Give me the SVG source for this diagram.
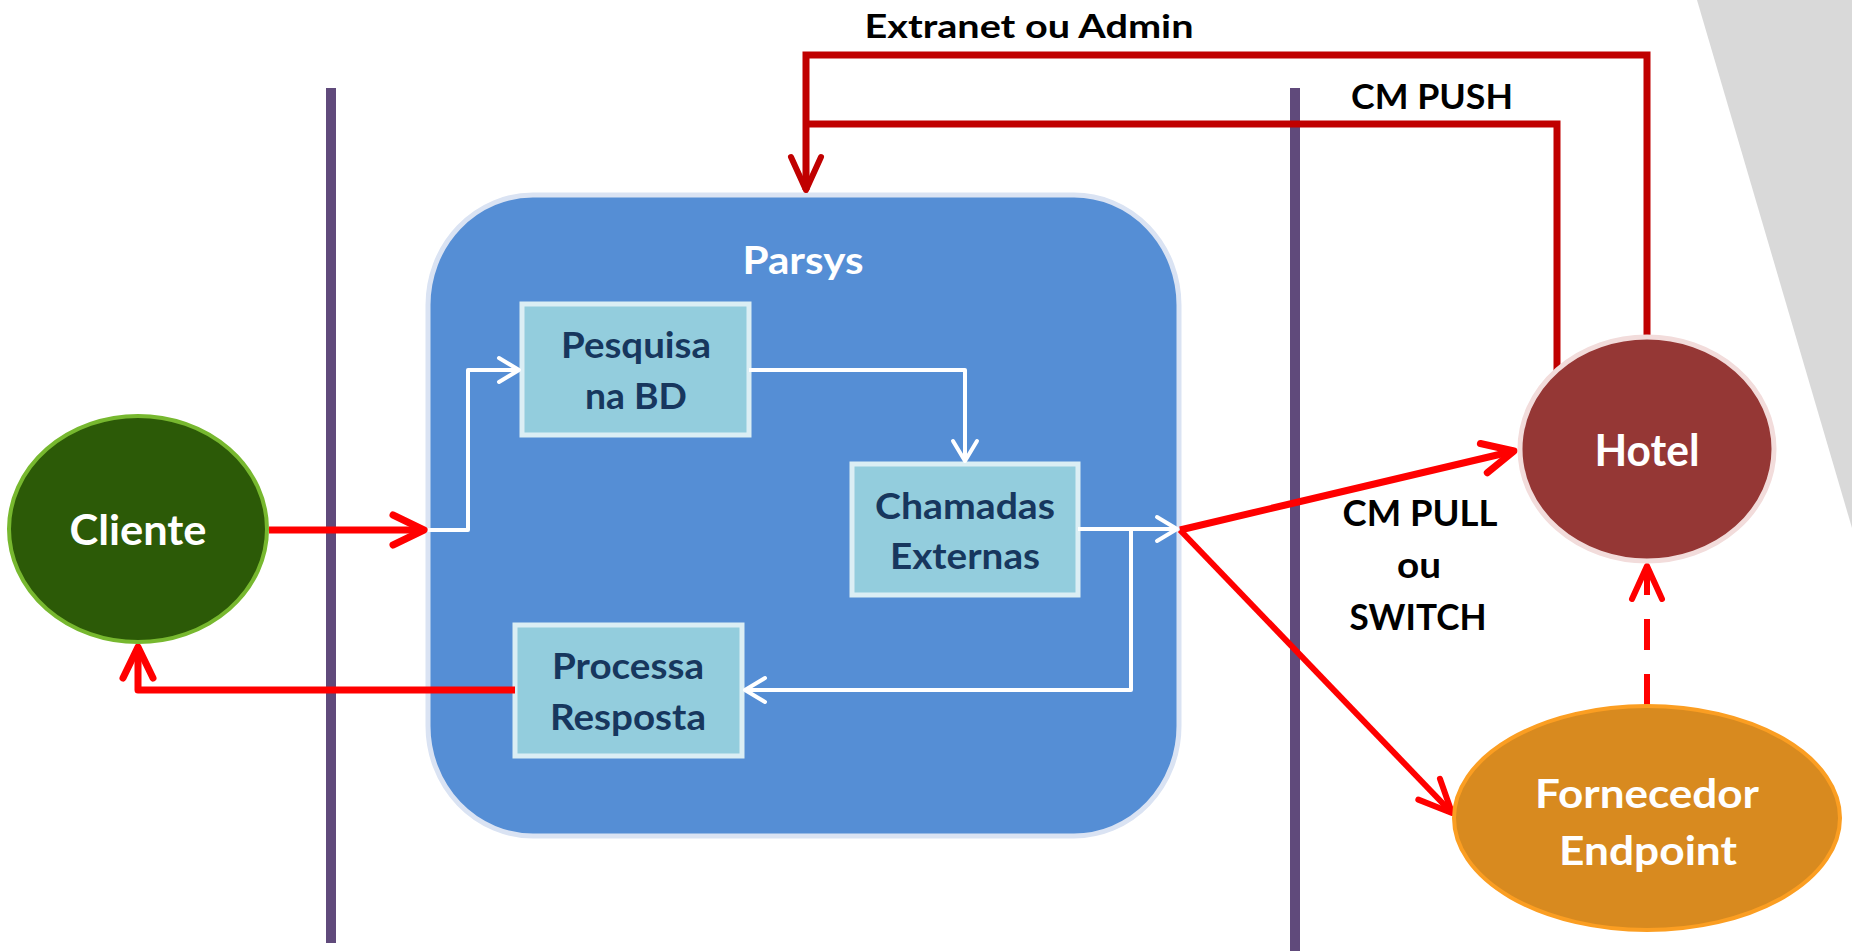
<svg xmlns="http://www.w3.org/2000/svg" width="1852" height="951" viewBox="0 0 1852 951">
  <style>
    .lbl { font-family: Lato, "Open Sans", "Liberation Sans", sans-serif; font-weight: 700; text-anchor: middle; }
    .blk { fill: #000000; }
    .wht { fill: #ffffff; }
    .nav { fill: #17375e; }
    .lane { stroke: #604a7b; stroke-width: 10; fill: none; }
    .box { fill: #93cddd; stroke: #dbeef4; stroke-width: 5; }
    .red { fill: none; stroke: #ff0000; stroke-linejoin: round; }
    .dred { fill: none; stroke: #c00000; stroke-width: 7; stroke-linejoin: miter; }
    .wl { fill: none; stroke: #ffffff; stroke-width: 4; stroke-linejoin: round; }
  </style>
  <defs>
    <marker id="mRed" markerUnits="userSpaceOnUse" markerWidth="50" markerHeight="50" viewBox="-45 -25 50 50" refX="0" refY="0" orient="auto" overflow="visible">
      <path d="M-31,-15 L0,0 L-31,15" fill="none" stroke="#ff0000" stroke-width="7" stroke-linecap="round" stroke-linejoin="round"/>
    </marker>
    <marker id="mRedThin" markerUnits="userSpaceOnUse" markerWidth="50" markerHeight="50" viewBox="-45 -25 50 50" refX="0" refY="0" orient="auto" overflow="visible">
      <path d="M-33,-15 L0,0 L-33,15" fill="none" stroke="#ff0000" stroke-width="6" stroke-linecap="round" stroke-linejoin="round"/>
    </marker>
    <marker id="mDred" markerUnits="userSpaceOnUse" markerWidth="50" markerHeight="50" viewBox="-45 -25 50 50" refX="0" refY="0" orient="auto" overflow="visible">
      <path d="M-33,-15 L0,0 L-33,15" fill="none" stroke="#c00000" stroke-width="6" stroke-linecap="round" stroke-linejoin="round"/>
    </marker>
    <marker id="mWht" markerUnits="userSpaceOnUse" markerWidth="40" markerHeight="40" viewBox="-30 -20 40 40" refX="0" refY="0" orient="auto" overflow="visible">
      <path d="M-20,-12 L0,0 L-20,12" fill="none" stroke="#ffffff" stroke-width="4" stroke-linecap="round" stroke-linejoin="round"/>
    </marker>
  </defs>

  <polygon id="bg-shape" points="1697,0 1852,0 1852,528" fill="#d9d9d9"/>

  <g id="lanes">
    <line class="lane" x1="331" y1="88" x2="331" y2="943"/>
    <line class="lane" x1="1295" y1="88" x2="1295" y2="951"/>
  </g>

  <g id="parsys">
    <rect x="428" y="195" width="751" height="641" rx="105" ry="110" fill="#558ed5" stroke="#dae3f3" stroke-width="5"/>
    <text class="lbl wht" x="803" y="274" font-size="39" textLength="121" lengthAdjust="spacingAndGlyphs">Parsys</text>
  </g>

  <g id="pesquisa">
    <rect class="box" x="522" y="304" width="227" height="131"/>
    <text class="lbl nav" x="636" y="358" font-size="36" textLength="150" lengthAdjust="spacingAndGlyphs">Pesquisa</text>
    <text class="lbl nav" x="636" y="409" font-size="36" textLength="102" lengthAdjust="spacingAndGlyphs">na BD</text>
  </g>

  <g id="chamadas">
    <rect class="box" x="852" y="464" width="226" height="131"/>
    <text class="lbl nav" x="965" y="519" font-size="36" textLength="180" lengthAdjust="spacingAndGlyphs">Chamadas</text>
    <text class="lbl nav" x="965" y="569" font-size="36" textLength="150" lengthAdjust="spacingAndGlyphs">Externas</text>
  </g>

  <g id="processa">
    <rect class="box" x="515" y="625" width="227" height="131"/>
    <text class="lbl nav" x="628" y="679" font-size="36" textLength="152" lengthAdjust="spacingAndGlyphs">Processa</text>
    <text class="lbl nav" x="628" y="730" font-size="36" textLength="156" lengthAdjust="spacingAndGlyphs">Resposta</text>
  </g>

  <g id="connectors">
    <path class="wl" d="M428,530 H468 V370 H519" marker-end="url(#mWht)"/>
    <path class="wl" d="M749,370 H965 V461" marker-end="url(#mWht)"/>
    <path class="wl" d="M1078,529 H1177" marker-end="url(#mWht)"/>
    <path class="wl" d="M1131,529 V690 H745" marker-end="url(#mWht)"/>

    <path class="red" stroke-width="7" d="M269,530 H424" marker-end="url(#mRed)"/>
    <path class="red" stroke-width="7" d="M515,690 H138 V647" marker-end="url(#mRed)"/>
    <path class="red" stroke-width="7" d="M1180,530 L1514,451" marker-end="url(#mRed)"/>
    <path class="red" stroke-width="6" d="M1180,530 L1452,813" marker-end="url(#mRedThin)"/>
    <path class="red" stroke-width="6" stroke-dasharray="31 24" d="M1647,705 V566" marker-end="url(#mRedThin)"/>

    <path class="dred" d="M1647,338 V55 H806 V190" marker-end="url(#mDred)"/>
    <path class="dred" d="M1557,372 V124 H806"/>

    <text class="lbl blk" x="1029" y="38" font-size="33" textLength="329" lengthAdjust="spacingAndGlyphs">Extranet ou Admin</text>
    <text class="lbl blk" x="1432" y="109" font-size="34" textLength="162" lengthAdjust="spacingAndGlyphs">CM PUSH</text>
    <text class="lbl blk" x="1420" y="526" font-size="36" textLength="155" lengthAdjust="spacingAndGlyphs">CM PULL</text>
    <text class="lbl blk" x="1419" y="578" font-size="36" textLength="44" lengthAdjust="spacingAndGlyphs">ou</text>
    <text class="lbl blk" x="1418" y="630" font-size="36" textLength="137" lengthAdjust="spacingAndGlyphs">SWITCH</text>
  </g>

  <g id="cliente">
    <ellipse cx="138" cy="529" rx="129" ry="113" fill="#2c5a07" stroke="#77b82f" stroke-width="4"/>
    <text class="lbl wht" x="138" y="545" font-size="42" textLength="137" lengthAdjust="spacingAndGlyphs">Cliente</text>
  </g>

  <g id="hotel">
    <ellipse cx="1647" cy="449" rx="127" ry="112" fill="#953735" stroke="#f2dcdb" stroke-width="5"/>
    <text class="lbl wht" x="1647" y="466" font-size="43" textLength="105" lengthAdjust="spacingAndGlyphs">Hotel</text>
  </g>

  <g id="fornecedor">
    <ellipse cx="1647" cy="818" rx="193" ry="112" fill="#d88a1f" stroke="#fb9e22" stroke-width="4"/>
    <text class="lbl wht" x="1647" y="808" font-size="40" textLength="224" lengthAdjust="spacingAndGlyphs">Fornecedor</text>
    <text class="lbl wht" x="1648" y="865" font-size="40" textLength="178" lengthAdjust="spacingAndGlyphs">Endpoint</text>
  </g>
</svg>
